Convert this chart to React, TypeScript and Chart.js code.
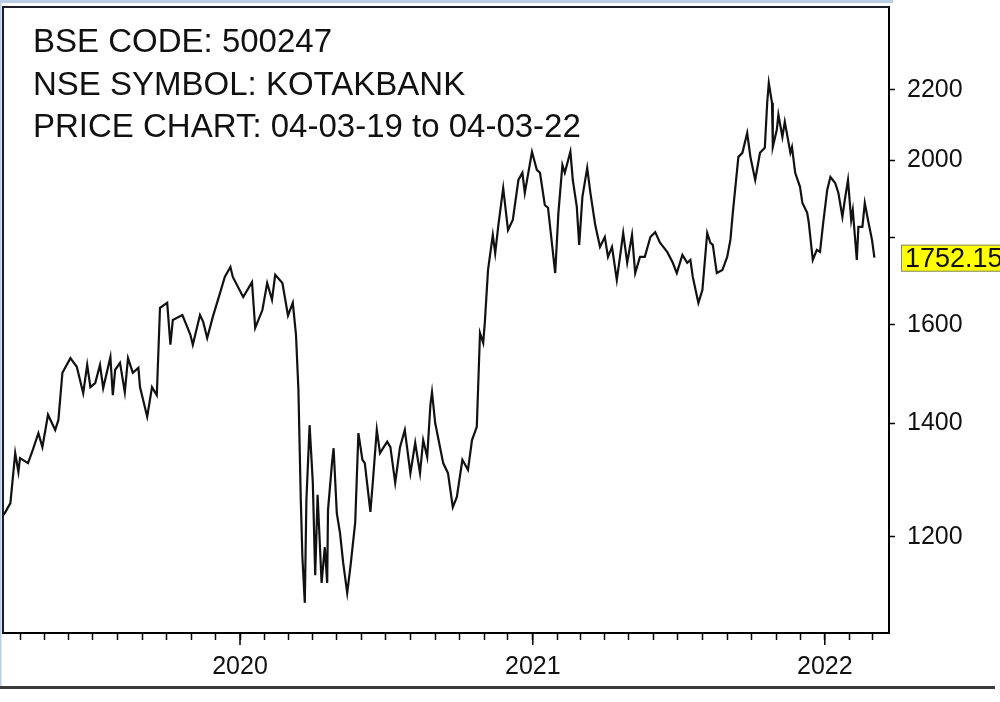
import React, { useEffect, useRef } from "react";
import { Chart, registerables } from "chart.js";

Chart.register(...registerables);

// ---- data ----
const START_DATE_UTC = Date.UTC(2019, 2, 4); // 04-03-19
const DAY_OFFSETS: number[] = [
  7, 9, 16, 22, 26, 28, 38, 44, 51, 56, 63, 72, 76, 81, 91, 99, 107, 112, 116, 122, 128, 132, 141, 144, 147, 153,
  159, 163, 169, 176, 178, 187, 193, 199, 203, 212, 216, 219, 231, 241, 244, 253, 257, 262, 269, 278, 284, 291, 294,
  307, 318, 322, 331, 337, 343, 347, 356, 363, 369, 373, 376, 379, 381, 384, 386, 390, 394, 397, 400, 405, 409, 412,
  413, 418, 420, 424, 428, 432, 437, 441, 447, 451, 456, 459, 466, 469, 474, 478, 487, 491, 497, 503, 509, 516, 522,
  528, 532, 537, 541, 543, 547, 557, 563, 569, 574, 581, 588, 593, 599, 603, 607, 609, 613, 619, 622, 626, 632, 638,
  644, 651, 656, 659, 668, 674, 678, 684, 688, 697, 701, 706, 709, 716, 719, 724, 727, 731, 737, 741, 747, 753, 759,
  763, 768, 774, 778, 782, 787, 793, 797, 803, 809, 816, 822, 828, 837, 844, 849, 856, 862, 866, 869, 876, 881, 887,
  891, 894, 899, 906, 912, 916, 919, 926, 931, 937, 941, 947, 953, 959, 962, 964, 968, 969, 974, 976, 981, 984, 991,
  993, 997, 1003, 1006, 1012, 1014, 1019, 1024, 1028, 1032, 1037, 1041, 1047, 1051, 1056, 1059, 1063, 1067, 1069,
  1074, 1076, 1081, 1084, 1088, 1093, 1096,
];
const PRICES: number[] = [
  1236, 1239, 1256, 1344, 1310, 1335, 1326, 1350, 1381, 1355, 1416, 1387, 1406, 1499, 1529, 1511, 1458, 1515, 1470,
  1478, 1515, 1468, 1531, 1454, 1505, 1519, 1460, 1529, 1499, 1509, 1470, 1412, 1470, 1454, 1637, 1648, 1557, 1610,
  1621, 1578, 1557, 1621, 1606, 1571, 1617, 1670, 1707, 1730, 1707, 1661, 1695, 1593, 1632, 1693, 1655, 1712, 1693,
  1620, 1648, 1578, 1466, 1261, 1167, 1097, 1261, 1396, 1292, 1139, 1270, 1127, 1183, 1127, 1244, 1326, 1353, 1239,
  1206, 1158, 1112, 1152, 1223, 1381, 1332, 1326, 1241, 1292, 1387, 1344, 1365, 1355, 1291, 1355, 1387, 1308, 1363,
  1308, 1368, 1337, 1435, 1460, 1400, 1326, 1308, 1249, 1266, 1332, 1314, 1368, 1393, 1582, 1561, 1604, 1723, 1807,
  1763, 1832, 1926, 1819, 1844, 1947, 1966, 1913, 2023, 1974, 1966, 1882, 1875, 1716, 1862, 1987, 1966, 2023, 1947,
  1877, 1783, 1903, 1979, 1913, 1832, 1778, 1802, 1754, 1778, 1700, 1754, 1812, 1740, 1807, 1716, 1754, 1754, 1802,
  1814, 1788, 1766, 1740, 1716, 1759, 1740, 1747, 1707, 1648, 1677, 1812, 1788, 1783, 1716, 1723, 1754, 1795, 1862,
  2009, 2020, 2075, 2009, 1947, 2020, 2034, 2162, 2221, 2162, 2036, 2084, 2127, 2064, 2107, 2020, 2036, 1966, 1929,
  1887, 1862, 1837, 1747, 1771, 1766, 1837, 1921, 1955, 1939, 1913, 1852, 1895, 1947, 1844, 1869, 1747, 1827, 1827,
  1887, 1844, 1795, 1752.15,
];
const Y_TICKS: number[] = [1200, 1400, 1600, 1800, 2000, 2200];
const Y_HIDDEN_LABELS: number[] = [1800];
const TITLE_LINES: string[] = ["BSE CODE: 500247", "NSE SYMBOL: KOTAKBANK", "PRICE CHART: 04-03-19 to 04-03-22"];
const X_MIN = 6.75;
const X_MAX = 1114.25;
const Y_MIN = 1053;
const Y_MAX = 2462;

const FONT = '"Liberation Sans", Arial, sans-serif';

// month ticks (day offsets from start) and year labels
const MONTH_TICKS: { value: number; label: string }[] = [];
for (let yr = 2019; yr <= 2022; yr++) {
  for (let m = 0; m < 12; m++) {
    const d = (Date.UTC(yr, m, 1) - START_DATE_UTC) / 86400000;
    if (d >= X_MIN && d <= X_MAX) MONTH_TICKS.push({ value: d, label: m === 0 ? String(yr) : "" });
  }
}

const decorPlugin = {
  id: "decor",
  beforeDraw(chart: any) {
    const { ctx, width, height } = chart;
    ctx.save();
    ctx.fillStyle = "#ffffff";
    ctx.fillRect(0, 0, width, height);
    ctx.restore();
  },
  afterDraw(chart: any) {
    const { ctx, chartArea: a, scales } = chart;
    const xs = scales.x;
    const ys = scales.y;
    ctx.save();
    // window-like strips
    ctx.fillStyle = "#b9cde3";
    ctx.fillRect(0, 0, a.right + 4, 3);
    ctx.fillRect(0, 0, 1.5, 688);
    // plot frame left & top
    ctx.strokeStyle = "#1c1c28";
    ctx.lineWidth = 2;
    ctx.beginPath();
    ctx.moveTo(a.left, a.bottom);
    ctx.lineTo(a.left, a.top);
    ctx.lineTo(a.right, a.top);
    ctx.stroke();
    // longer year ticks
    ctx.strokeStyle = "#000";
    ctx.lineWidth = 1.5;
    MONTH_TICKS.filter((t) => t.label).forEach((t) => {
      const px = xs.getPixelForValue(t.value);
      ctx.beginPath();
      ctx.moveTo(px, a.bottom);
      ctx.lineTo(px, a.bottom + 12);
      ctx.stroke();
    });
    // bottom rule
    ctx.fillStyle = "#3a3a3a";
    ctx.fillRect(0, 686, 995, 3);
    // title text
    ctx.fillStyle = "#111";
    ctx.font = `33px ${FONT}`;
    ctx.textBaseline = "alphabetic";
    ctx.textAlign = "left";
    TITLE_LINES.forEach((line, i) => {
      ctx.fillText(line, a.left + 30, a.top + 45 + i * 42.5);
    });
    // last value box
    const last = PRICES[PRICES.length - 1];
    const py = ys.getPixelForValue(last);
    ctx.fillStyle = "#ffff00";
    ctx.fillRect(a.right + 12, py - 13, 130, 27);
    ctx.strokeStyle = "#808080";
    ctx.lineWidth = 1;
    ctx.strokeRect(a.right + 12.5, py - 12.5, 130, 26);
    ctx.fillStyle = "#111";
    ctx.font = `27px ${FONT}`;
    ctx.textBaseline = "middle";
    ctx.fillText(last.toFixed(2), a.right + 16, py + 1.5);
    ctx.restore();
  },
};

export default function App() {
  const canvasRef = useRef<HTMLCanvasElement | null>(null);

  useEffect(() => {
    if (!canvasRef.current) return;
    const points = DAY_OFFSETS.map((d, i) => ({ x: d, y: PRICES[i] }));
    const chart = new Chart(canvasRef.current, {
      type: "line",
      data: {
        datasets: [
          {
            data: points,
            borderColor: "#111",
            borderWidth: 2.2,
            pointRadius: 0,
            tension: 0,
            fill: false,
          },
        ],
      },
      options: {
        responsive: false,
        animation: false,
        devicePixelRatio: 1,
        layout: { padding: { top: 7, left: 3, right: 0, bottom: 0 } },
        plugins: { legend: { display: false }, tooltip: { enabled: false }, title: { display: false } },
        scales: {
          x: {
            type: "linear",
            min: X_MIN,
            max: X_MAX,
            bounds: "data",
            afterBuildTicks: (s: any) => {
              s.ticks = MONTH_TICKS.map((t) => ({ value: t.value }));
            },
            afterFit: (s: any) => {
              s.height = 69;
              s.paddingLeft = 0;
              s.paddingRight = 0;
              s.paddingTop = 0;
              s.paddingBottom = 0;
            },
            grid: {
              display: true,
              drawOnChartArea: false,
              drawTicks: true,
              tickLength: 7,
              tickColor: "#000",
              tickWidth: 1.5,
            },
            border: { display: true, color: "#000", width: 2 },
            ticks: {
              autoSkip: false,
              maxRotation: 0,
              minRotation: 0,
              padding: 12,
              color: "#111",
              font: { family: FONT, size: 25 },
              callback: (v: any) => {
                const t = MONTH_TICKS.find((m) => Math.abs(m.value - Number(v)) < 0.01);
                return t ? t.label : "";
              },
            },
          },
          y: {
            type: "logarithmic",
            position: "right",
            min: Y_MIN,
            max: Y_MAX,
            bounds: "data",
            afterBuildTicks: (s: any) => {
              s.ticks = Y_TICKS.map((v) => ({ value: v }));
            },
            afterFit: (s: any) => {
              s.width = 111;
              s.paddingLeft = 0;
              s.paddingRight = 0;
              s.paddingTop = 0;
              s.paddingBottom = 0;
            },
            grid: {
              display: true,
              drawOnChartArea: false,
              drawTicks: true,
              tickLength: 6,
              tickColor: "#000",
              tickWidth: 1.5,
            },
            border: { display: true, color: "#000", width: 2 },
            ticks: {
              autoSkip: false,
              padding: 12,
              color: "#111",
              font: { family: FONT, size: 25 },
              callback: (v: any) => (Y_HIDDEN_LABELS.includes(Number(v)) ? "" : String(v)),
            },
          },
        },
      },
      plugins: [decorPlugin],
    });
    return () => chart.destroy();
  }, []);

  return (
    <div style={{ position: "absolute", left: 0, top: 0, width: 1000, height: 702, background: "#fff" }}>
      <canvas ref={canvasRef} width={1000} height={702} style={{ display: "block", width: 1000, height: 702 }} />
    </div>
  );
}
